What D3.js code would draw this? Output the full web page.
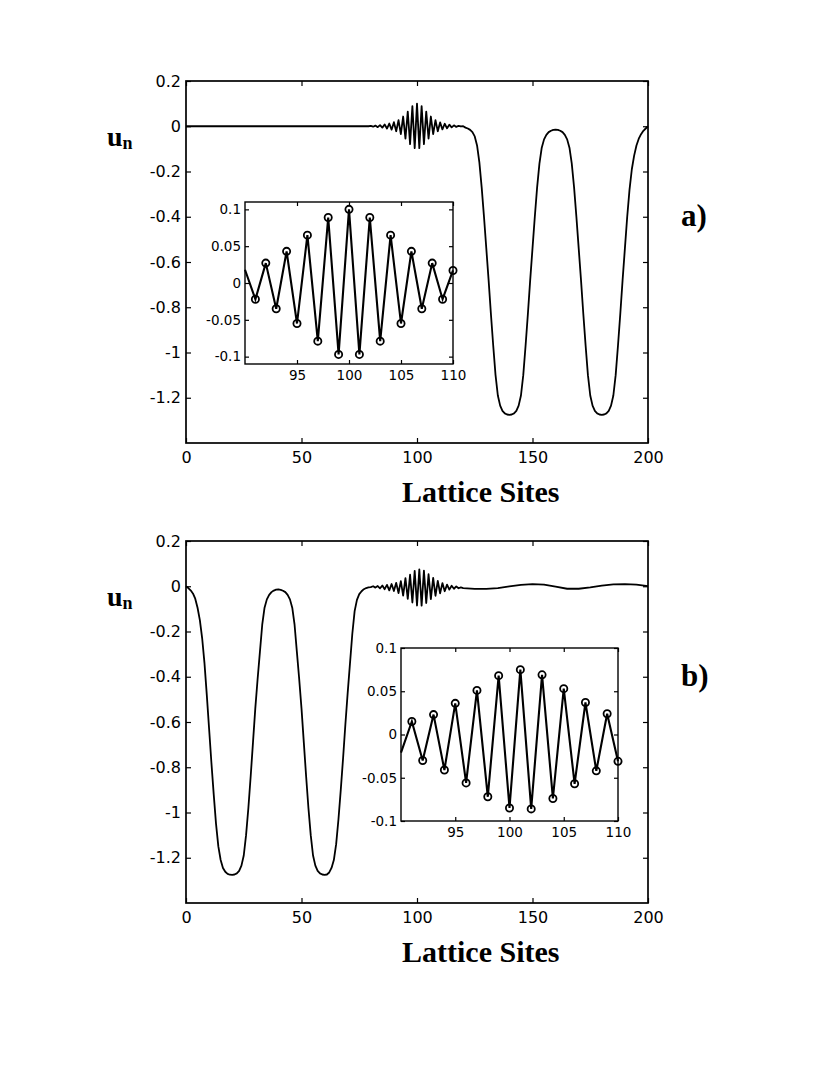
<!DOCTYPE html>
<html><head><meta charset="utf-8">
<script src="https://cdn.jsdelivr.net/npm/d3@7"></script>
<style>body{margin:0;background:#fff}</style>
</head><body>
<svg id="c" width="830" height="1087"></svg>
<script>
// ---- tick labels ----
const xTicks = [0, 50, 100, 150, 200];
const yTicks = [0.2, 0, -0.2, -0.4, -0.6, -0.8, -1, -1.2];
const insetXTicks = [95, 100, 105, 110];
const insetYTicks = [0.1, 0.05, 0, -0.05, -0.1];

// ---- panel a: u_n for lattice sites 0..200 ----
const uA = [
  0,0,0,0,0,0,0,0,0,0, 0,0,0,0,0,0,0,0,0,0,
  0,0,0,0,0,0,0,0,0,0, 0,0,0,0,0,0,0,0,0,0,
  0,0,0,0,0,0,0,0,0,0, 0,0,0,0,0,0,0,0,0,0,
  0,0,0,0,0,0,0,0,0,0, 0,0,0,0,0,0,0,0,0,0,
  // 80..89
  0.002,-0.002,0.003,-0.004,0.005,-0.006,0.008,-0.010,0.012,-0.015,
  // 90..110
  0.018,-0.022,0.027,-0.035,0.043,-0.055,0.065,-0.079,0.089,-0.097,
  0.100,-0.097,0.089,-0.079,0.065,-0.055,0.043,-0.035,0.027,-0.022,
  0.017,
  // 111..120
  -0.014,0.011,-0.009,0.007,-0.005,0.004,-0.003,0.002,-0.001,0.000,
  // 121..140
  -0.006,-0.010,-0.016,-0.026,-0.045,-0.085,-0.16,-0.27,-0.40,-0.54,
  -0.68,-0.83,-0.97,-1.10,-1.19,-1.235,-1.258,-1.269,-1.274,-1.276,
  // 141..160
  -1.274,-1.269,-1.258,-1.235,-1.19,-1.10,-0.97,-0.83,-0.68,-0.54,
  -0.40,-0.27,-0.165,-0.095,-0.058,-0.038,-0.026,-0.020,-0.016,-0.015,
  // 161..180
  -0.016,-0.020,-0.026,-0.038,-0.058,-0.095,-0.165,-0.27,-0.40,-0.54,
  -0.68,-0.83,-0.97,-1.10,-1.19,-1.235,-1.258,-1.269,-1.274,-1.276,
  // 181..200
  -1.274,-1.269,-1.258,-1.235,-1.19,-1.10,-0.97,-0.83,-0.68,-0.54,
  -0.40,-0.28,-0.19,-0.13,-0.085,-0.055,-0.035,-0.020,-0.010,0.000
];

// ---- panel b: u_n for lattice sites 0..120 ----
const uB = [
  // 0..19
  0,-0.008,-0.018,-0.032,-0.055,-0.095,-0.15,-0.23,-0.34,-0.48,
  -0.63,-0.78,-0.92,-1.05,-1.15,-1.21,-1.245,-1.262,-1.271,-1.275,
  // 20..39
  -1.276,-1.274,-1.269,-1.258,-1.235,-1.19,-1.10,-0.98,-0.84,-0.69,
  -0.54,-0.41,-0.29,-0.17,-0.095,-0.058,-0.038,-0.026,-0.019,-0.015,
  // 40..59
  -0.014,-0.016,-0.020,-0.026,-0.038,-0.058,-0.095,-0.17,-0.29,-0.41,
  -0.54,-0.69,-0.84,-0.98,-1.10,-1.19,-1.235,-1.258,-1.269,-1.274,
  // 60..79
  -1.276,-1.274,-1.265,-1.245,-1.21,-1.14,-1.03,-0.90,-0.76,-0.61,
  -0.47,-0.34,-0.21,-0.11,-0.060,-0.035,-0.022,-0.013,-0.008,-0.005,
  // 80..89
  -0.004,0.000,-0.006,0.001,-0.009,0.003,-0.013,0.006,-0.018,0.010,
  // 90..110
  -0.021,0.015,-0.030,0.023,-0.041,0.036,-0.056,0.051,-0.072,0.068,
  -0.085,0.075,-0.086,0.069,-0.074,0.053,-0.057,0.037,-0.042,0.024,
  -0.031,
  // 111..120
  0.014,-0.022,0.007,-0.015,0.002,-0.011,-0.001,-0.009,-0.005,-0.008
];
// slow tail of panel b: [site, u]
const tailB = [
  [125,-0.012],[130,-0.012],[135,-0.008],[140,-0.001],[145,0.006],[150,0.009],
  [155,0.007],[160,-0.002],[165,-0.011],[170,-0.011],[175,-0.005],[180,0.003],
  [185,0.008],[190,0.009],[195,0.007],[200,0.001]
];

const svg = d3.select('#c');
const fmt = d => String(d);
const tickFont = 'DejaVu Sans, sans-serif';
const serif = 'Liberation Serif, Times New Roman, serif';

const lineA = uA.map((u, i) => [i, u]);
const lineB = uB.map((u, i) => [i, u]).concat(tailB);

const panels = [
  {top: 81, bottom: 443, data: lineA, letter: 'a)',
   inset: {l: 245, r: 453, t: 202, b: 364, yd: [-0.11, 0.11], data: lineA}},
  {top: 541, bottom: 903, data: lineB, letter: 'b)',
   inset: {l: 401, r: 618, t: 648, b: 821, yd: [-0.1, 0.1], data: lineB}}
];
const left = 186, right = 648;

function styleAxis(g, size) {
  g.select('.domain').remove();
  g.selectAll('.tick line').attr('stroke', '#000').attr('stroke-width', 1.2);
  g.selectAll('.tick text').attr('font-family', tickFont).attr('font-size', size).attr('fill', '#000');
}

panels.forEach(p => {
  const x = d3.scaleLinear().domain([0, 200]).range([left, right]);
  const y = d3.scaleLinear().domain([-1.4, 0.2]).range([p.bottom, p.top]);
  const g = svg.append('g');

  g.append('g').attr('transform', `translate(0,${p.bottom})`)
    .call(d3.axisBottom(x).tickValues(xTicks).tickFormat(fmt).tickSize(-5).tickPadding(9))
    .call(a => styleAxis(a, 16));
  g.append('g').attr('transform', `translate(0,${p.top})`)
    .call(d3.axisTop(x).tickValues(xTicks).tickFormat('').tickSize(-5))
    .call(a => styleAxis(a, 16));
  g.append('g').attr('transform', `translate(${left},0)`)
    .call(d3.axisLeft(y).tickValues(yTicks).tickFormat(fmt).tickSize(-5).tickPadding(5))
    .call(a => styleAxis(a, 16));
  g.append('g').attr('transform', `translate(${right},0)`)
    .call(d3.axisRight(y).tickValues(yTicks).tickFormat('').tickSize(-5))
    .call(a => styleAxis(a, 16));

  g.append('path').datum(p.data)
    .attr('d', d3.line().x(d => x(d[0])).y(d => y(d[1])))
    .attr('fill', 'none').attr('stroke', '#000').attr('stroke-width', 1.8)
    .attr('stroke-linejoin', 'round');

  g.append('rect').attr('x', left).attr('y', p.top)
    .attr('width', right - left).attr('height', p.bottom - p.top)
    .attr('fill', 'none').attr('stroke', '#000').attr('stroke-width', 1.7);

  // inset
  const q = p.inset;
  const xi = d3.scaleLinear().domain([90, 110]).range([q.l, q.r]);
  const yi = d3.scaleLinear().domain(q.yd).range([q.b, q.t]);
  const gi = g.append('g');
  gi.append('rect').attr('x', q.l).attr('y', q.t).attr('width', q.r - q.l).attr('height', q.b - q.t)
    .attr('fill', '#fff');
  gi.append('g').attr('transform', `translate(0,${q.b})`)
    .call(d3.axisBottom(xi).tickValues(insetXTicks).tickFormat(fmt).tickSize(-4).tickPadding(6))
    .call(a => styleAxis(a, 13.5));
  gi.append('g').attr('transform', `translate(0,${q.t})`)
    .call(d3.axisTop(xi).tickValues(insetXTicks).tickFormat('').tickSize(-4))
    .call(a => styleAxis(a, 13.5));
  gi.append('g').attr('transform', `translate(${q.l},0)`)
    .call(d3.axisLeft(yi).tickValues(insetYTicks).tickFormat(fmt).tickSize(-4).tickPadding(4))
    .call(a => styleAxis(a, 13.5));
  gi.append('g').attr('transform', `translate(${q.r},0)`)
    .call(d3.axisRight(yi).tickValues(insetYTicks).tickFormat('').tickSize(-4))
    .call(a => styleAxis(a, 13.5));

  const sub = q.data.filter(d => d[0] >= 90 && d[0] <= 110);
  gi.append('path').datum(sub)
    .attr('d', d3.line().x(d => xi(d[0])).y(d => yi(d[1])))
    .attr('fill', 'none').attr('stroke', '#000').attr('stroke-width', 2.1)
    .attr('stroke-linejoin', 'miter');
  gi.selectAll('circle').data(sub.filter(d => d[0] >= 91)).join('circle')
    .attr('cx', d => xi(d[0])).attr('cy', d => yi(d[1])).attr('r', 3.6)
    .attr('fill', 'none').attr('stroke', '#000').attr('stroke-width', 1.8);
  gi.append('rect').attr('x', q.l).attr('y', q.t).attr('width', q.r - q.l).attr('height', q.b - q.t)
    .attr('fill', 'none').attr('stroke', '#000').attr('stroke-width', 1.4);

  // labels
  const ul = g.append('text').attr('x', 107).attr('y', p.top + 65)
    .attr('font-family', serif).attr('font-weight', 'bold').attr('font-size', 28).text('u');
  ul.append('tspan').attr('font-size', 18).attr('dy', 3).text('n');

  g.append('text').attr('x', 681).attr('y', p.top + 145)
    .attr('font-family', serif).attr('font-weight', 'bold').attr('font-size', 31).text(p.letter);

  g.append('text').attr('x', 402).attr('y', p.bottom + 59)
    .attr('font-family', serif).attr('font-weight', 'bold').attr('font-size', 30).text('Lattice Sites');
});
</script>
</body></html>
